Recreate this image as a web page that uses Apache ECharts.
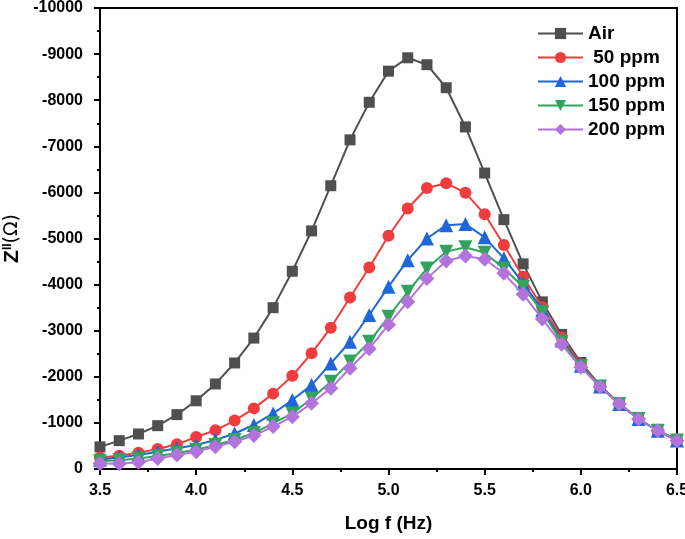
<!DOCTYPE html>
<html>
<head>
<meta charset="utf-8">
<style>html,body{margin:0;padding:0;background:#fff}#c{width:685px;height:539px}</style>
<script src="https://cdn.jsdelivr.net/npm/echarts@6/dist/echarts.min.js"></script>
</head>
<body>
<div id="c"></div>
<script>
const logF = [3.5,3.6,3.7,3.8,3.9,4.0,4.1,4.2,4.3,4.4,4.5,4.6,4.7,4.8,4.9,5.0,5.1,5.2,5.3,5.4,5.5,5.6,5.7,5.8,5.9,6.0,6.1,6.2,6.3,6.4,6.5];
const air    = [-480,-615,-760,-940,-1180,-1480,-1845,-2300,-2840,-3500,-4290,-5165,-6145,-7140,-7955,-8630,-8920,-8770,-8270,-7420,-6420,-5410,-4450,-3625,-2920,-2310,-1810,-1420,-1090,-830,-640];
const ppm50  = [-250,-290,-355,-435,-535,-695,-840,-1050,-1315,-1635,-2025,-2510,-3065,-3720,-4370,-5060,-5650,-6095,-6200,-5990,-5525,-4860,-4170,-3510,-2850,-2270,-1800,-1410,-1085,-830,-630];
const ppm100 = [-200,-255,-305,-375,-450,-520,-630,-770,-955,-1205,-1495,-1820,-2290,-2760,-3340,-3955,-4530,-5000,-5290,-5315,-5025,-4570,-4030,-3450,-2790,-2240,-1790,-1410,-1085,-830,-620];
const ppm150 = [-170,-190,-230,-280,-345,-420,-520,-630,-780,-990,-1205,-1530,-1895,-2330,-2760,-3300,-3845,-4350,-4715,-4810,-4690,-4350,-3955,-3400,-2760,-2230,-1790,-1410,-1085,-830,-620];
const ppm200 = [-120,-115,-145,-230,-305,-375,-485,-590,-725,-920,-1135,-1425,-1750,-2185,-2610,-3130,-3630,-4135,-4510,-4620,-4550,-4245,-3790,-3255,-2705,-2205,-1785,-1410,-1085,-830,-615];
const seriesNames = ['Air', ' 50 ppm', '100 ppm', '150 ppm', '200 ppm'];
const seriesValues = [air, ppm50, ppm100, ppm150, ppm200];

const colors = ['#4f4f4f', '#f03c3c', '#1f66dc', '#30a45c', '#b274dc'];
const symbols = ['rect', 'circle', 'triangle', 'path://M0,0 L10,0 L5,9 Z', 'diamond'];
const sizes = [11, 12, 14, 14, 15];
const font = 'Liberation Sans, Arial, sans-serif';

const chart = echarts.init(document.getElementById('c'));
chart.setOption({
  animation: false,
  backgroundColor: '#fff',
  grid: { left: 100, right: 8, top: 8, bottom: 70, outerBoundsMode: 'none', containLabel: false, show: true, borderColor: '#000', borderWidth: 2, backgroundColor: 'transparent' },
  legend: {
    orient: 'vertical', left: 537, top: 24, padding: 0, itemWidth: 45, itemHeight: 14, itemGap: 5,
    textStyle: { fontFamily: font, fontWeight: 'bold', fontSize: 19, color: '#000' },
    data: seriesNames
  },
  xAxis: {
    type: 'value', min: 3.5, max: 6.5, interval: 0.5,
    name: 'Log f (Hz)', nameLocation: 'middle', nameGap: 45,
    nameTextStyle: { fontFamily: font, fontWeight: 'bold', fontSize: 19, color: '#000' },
    axisLine: { onZero: false, lineStyle: { color: '#000', width: 2 } },
    axisTick: { length: 6, lineStyle: { color: '#000', width: 2 } },
    minorTick: { show: true, splitNumber: 2, length: 3, lineStyle: { color: '#000', width: 2 } },
    splitLine: { show: false },
    axisLabel: { margin: 14, fontFamily: font, fontWeight: 'bold', fontSize: 16, color: '#000', formatter: v => v.toFixed(1) }
  },
  yAxis: {
    type: 'value', inverse: true, min: -10000, max: 0, interval: 1000,
    name: '{a|Z}{s|II}{o|(Ω)}', nameLocation: 'middle', nameGap: 71, nameRotate: 90,
    nameTextStyle: {
      color: '#000',
      rich: {
        a: { fontFamily: font, fontWeight: 'bold', fontSize: 21, color: '#000' },
        s: { fontFamily: font, fontWeight: 'bold', fontSize: 12, color: '#000', verticalAlign: 'top', padding: [0, 0, 9, 0] },
        o: { fontFamily: 'DejaVu Sans, sans-serif', fontSize: 19, color: '#000' }
      }
    },
    axisLine: { onZero: false, lineStyle: { color: '#000', width: 2 } },
    axisTick: { length: 6, lineStyle: { color: '#000', width: 2 } },
    minorTick: { show: true, splitNumber: 2, length: 3, lineStyle: { color: '#000', width: 2 } },
    splitLine: { show: false },
    axisLabel: { margin: 17, fontFamily: font, fontWeight: 'bold', fontSize: 16, color: '#000', formatter: v => String(v) }
  },
  series: seriesNames.map((n, i) => ({
    name: n, type: 'line',
    data: logF.map((x, j) => [x, seriesValues[i][j]]),
    symbol: symbols[i], symbolSize: sizes[i],
    itemStyle: { color: colors[i] },
    lineStyle: { color: colors[i], width: 2 },
    z: 10 + i
  }))
});
</script>
</body>
</html>
